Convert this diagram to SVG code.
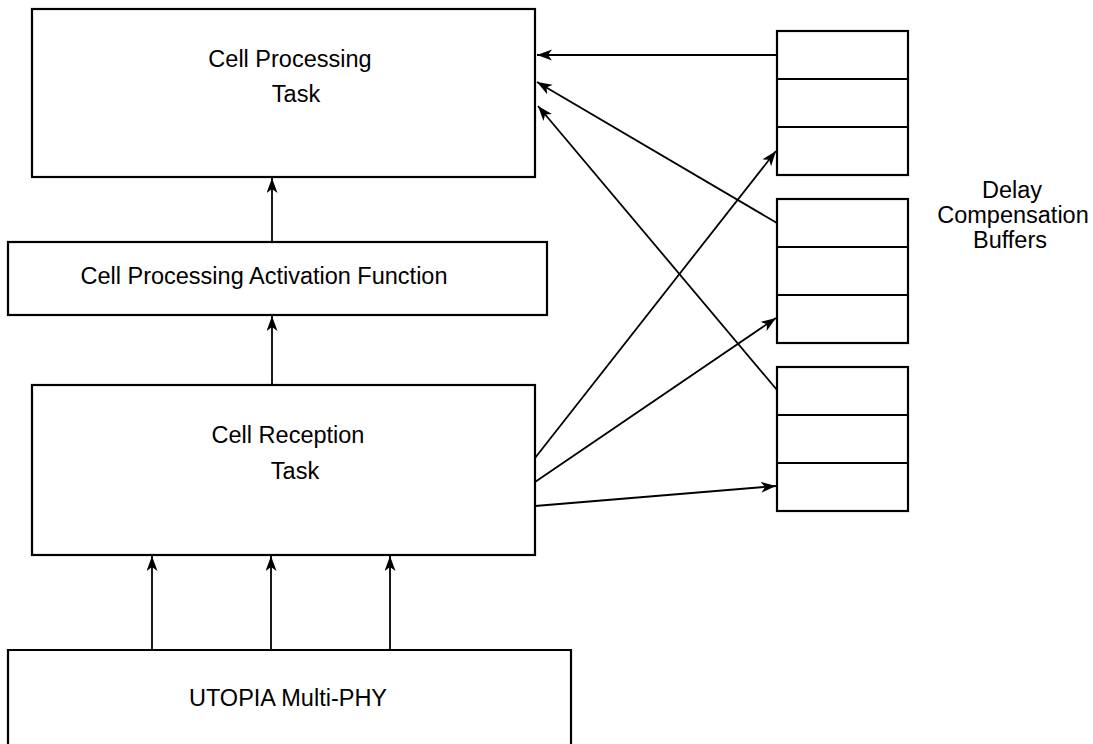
<svg xmlns="http://www.w3.org/2000/svg" width="1093" height="744" viewBox="0 0 1093 744">
<style>
.box{fill:#fff;stroke:#000;stroke-width:2.2}
.t{font-family:"Liberation Sans",Arial,sans-serif;font-size:23.5px;fill:#000;text-anchor:middle}
.c{stroke:#000;stroke-width:1.8;fill:none}
</style>
<defs>
<marker id="ah" markerUnits="userSpaceOnUse" markerWidth="18" markerHeight="12" refX="15" refY="5.5" orient="auto">
<path d="M0,0 L15,5.5 L0,11 L4,5.5 Z" fill="#000"/>
</marker>
</defs>
<rect width="1093" height="744" fill="#fff"/>
<g id="cell-processing-task">
<rect class="box" x="32" y="9" width="503" height="168"/>
<text class="t" x="290" y="67">Cell Processing</text>
<text class="t" x="296" y="102">Task</text>
</g>
<g id="activation-function">
<rect class="box" x="8" y="242" width="539" height="73"/>
<text class="t" x="264" y="284">Cell Processing Activation Function</text>
</g>
<g id="cell-reception-task">
<rect class="box" x="32" y="385" width="503" height="170"/>
<text class="t" x="288" y="443">Cell Reception</text>
<text class="t" x="295" y="479">Task</text>
</g>
<g id="utopia">
<path class="box" d="M8,760 L8,650 L571,650 L571,760"/>
<text class="t" x="288" y="706">UTOPIA Multi-PHY</text>
</g>
<g id="buffer-1">
<rect class="box" x="777" y="31" width="131" height="144"/>
<line class="c" x1="777" y1="79" x2="909" y2="79" stroke-width="2.2"/>
<line class="c" x1="777" y1="127" x2="909" y2="127" stroke-width="2.2"/>
</g>
<g id="buffer-2">
<rect class="box" x="777" y="199" width="131" height="144"/>
<line class="c" x1="777" y1="247" x2="909" y2="247" stroke-width="2.2"/>
<line class="c" x1="777" y1="295" x2="909" y2="295" stroke-width="2.2"/>
</g>
<g id="buffer-3">
<rect class="box" x="777" y="367" width="131" height="144"/>
<line class="c" x1="777" y1="415" x2="909" y2="415" stroke-width="2.2"/>
<line class="c" x1="777" y1="463" x2="909" y2="463" stroke-width="2.2"/>
</g>
<g id="buffers-label">
<text class="t" x="1012" y="198" font-size="22.5">Delay</text>
<text class="t" x="1013" y="223" font-size="22.5">Compensation</text>
<text class="t" x="1010" y="248" font-size="22.5">Buffers</text>
</g>
<g id="connectors">
<line class="c" x1="272" y1="242" x2="272" y2="178" marker-end="url(#ah)"/>
<line class="c" x1="272" y1="385" x2="272" y2="316" marker-end="url(#ah)"/>
<line class="c" x1="152" y1="650" x2="152" y2="556" marker-end="url(#ah)"/>
<line class="c" x1="271" y1="650" x2="271" y2="556" marker-end="url(#ah)"/>
<line class="c" x1="390" y1="650" x2="390" y2="556" marker-end="url(#ah)"/>
<line class="c" x1="777" y1="55" x2="537" y2="55" marker-end="url(#ah)"/>
<line class="c" x1="777" y1="223" x2="537" y2="82" marker-end="url(#ah)"/>
<line class="c" x1="777" y1="390" x2="538" y2="106" marker-end="url(#ah)"/>
<line class="c" x1="535" y1="458" x2="776" y2="151" marker-end="url(#ah)"/>
<line class="c" x1="535" y1="482" x2="776" y2="318" marker-end="url(#ah)"/>
<line class="c" x1="535" y1="506" x2="776" y2="486" marker-end="url(#ah)"/>
</g>
</svg>
